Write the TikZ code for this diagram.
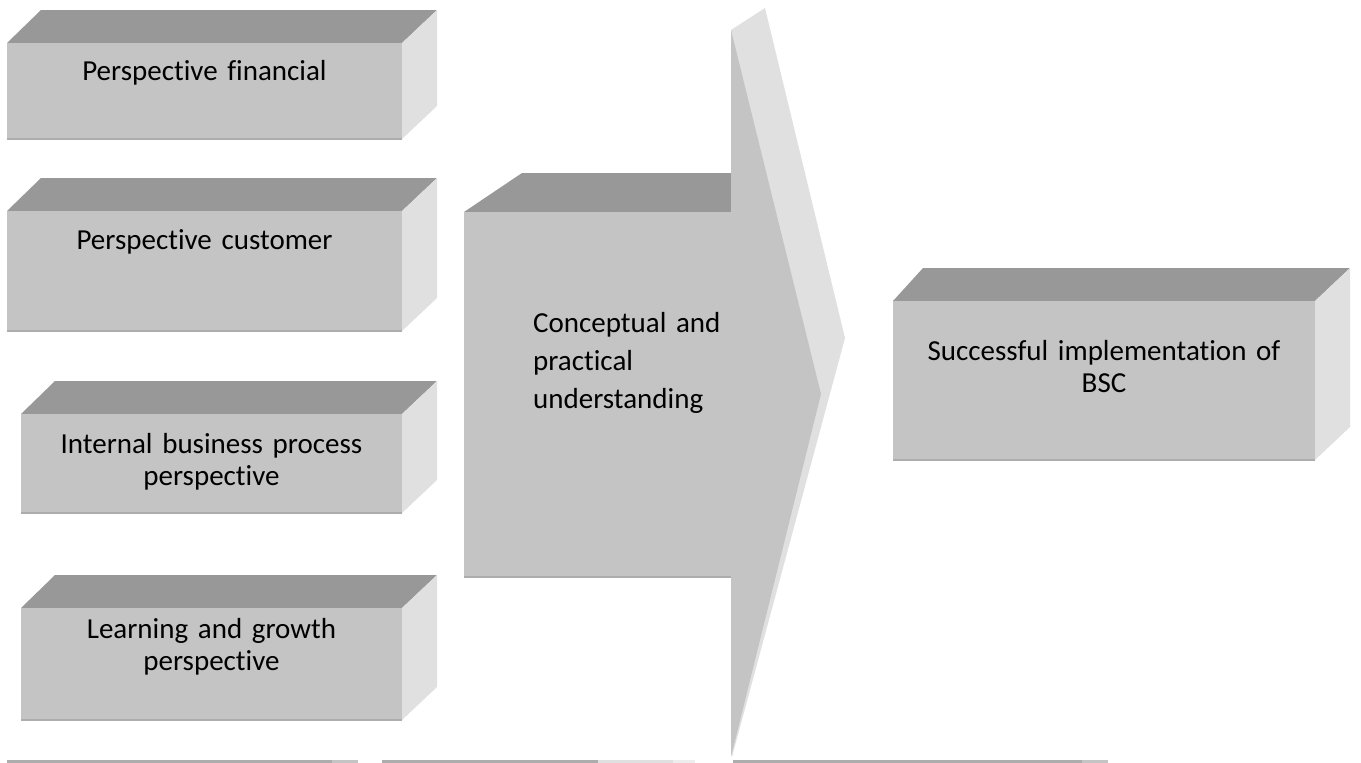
\documentclass[tikz,border=0pt]{standalone}
\usepackage{fontspec}
\setmainfont{Carlito}[Ligatures=NoCommon, RawFeature={-calt}]
\definecolor{frontgray}{HTML}{C4C4C4}
\definecolor{topgray}{HTML}{989898}
\definecolor{sidegray}{HTML}{E0E0E0}
\definecolor{edgegray}{HTML}{ADADAD}
\definecolor{palegray}{HTML}{EDEDED}

\begin{document}
\begin{tikzpicture}[x=1pt, y=-1pt,
    frontface/.style={fill=frontgray},
    topface/.style={fill=topgray},
    sideface/.style={fill=sidegray},
    lowedge/.style={draw=edgegray, line width=2pt},
    boxtext/.style={anchor=base, align=center, inner sep=0pt, text width=#1,
      font=\fontsize{29}{32}\selectfont},
  ]
\useasboundingbox (0,0) rectangle (1361,763);

% perspectives, stacked on the left
\foreach \xl/\yt/\yb in {7/43/139, 7/211/331, 21/414/513, 21/608/720}{
  \fill[topface] (\xl,\yt) -- (\xl+34,\yt-33) -- (437,\yt-33) -- (402,\yt) -- cycle;
  \fill[sideface] (402,\yt) -- (437,\yt-33) -- (437,\yb-33) -- (402,\yb) -- cycle;
  \fill[frontface] (\xl,\yt) rectangle (402,\yb);
  \draw[lowedge] (\xl,\yb) -- (402,\yb);
}
\node[boxtext=380pt] (financial) at (204.5,80) {Perspective financial};
\node[boxtext=380pt] (customer) at (204.5,249) {Perspective customer};
\node[boxtext=380pt] (internal) at (211.5,453) {Internal business process\\perspective};
\node[boxtext=380pt] (learning) at (211.5,638) {Learning and growth\\perspective};

% the big arrow
\fill[sideface] (731,30) -- (765,8) -- (845,338) -- (732,757) -- cycle;
\fill[topface] (464,212) -- (522,173) -- (731,173) -- (731,212) -- cycle;
\fill[frontface] (464,212) -- (731,212) -- (731,30) -- (821,394) -- (731,757)
  -- (731,577) -- (464,577) -- cycle;
\draw[lowedge] (464,577) -- (731,577);
\node[anchor=base west, align=left, inner sep=0pt, text width=240pt,
  font=\fontsize{29}{38}\selectfont] (understanding) at (533,332)
  {Conceptual and\\practical\\understanding};

% result box
\fill[topface] (893,301) -- (923,268) -- (1350,268) -- (1315,301) -- cycle;
\fill[sideface] (1315,301) -- (1350,268) -- (1350,427) -- (1315,460) -- cycle;
\fill[frontface] (893,301) rectangle (1315,460);
\draw[lowedge] (893,460) -- (1315,460);
\node[boxtext=420pt] (success) at (1104,360) {Successful implementation of\\BSC};

% cut-off shapes at the page foot
\fill[edgegray] (7,760) rectangle (332,763);
\fill[frontgray] (332,760) rectangle (358,763);
\fill[edgegray] (382,760) rectangle (598,763);
\fill[sidegray] (598,760) rectangle (673,763);
\fill[palegray] (673,760) rectangle (695,763);
\fill[edgegray] (733,760) rectangle (1082,763);
\fill[frontgray] (1082,760) rectangle (1108,763);
\end{tikzpicture}
\end{document}
